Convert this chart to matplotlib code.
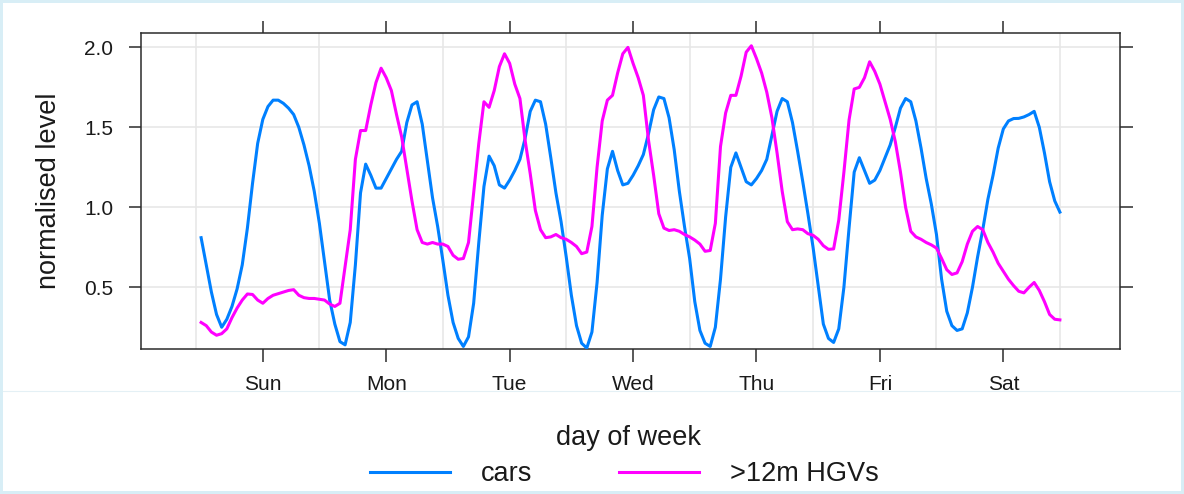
import matplotlib
matplotlib.use("Agg")
import matplotlib.pyplot as plt
from matplotlib.lines import Line2D
from matplotlib.patches import Rectangle
import numpy as np

plt.rcParams["font.family"] = ["Liberation Sans", "DejaVu Sans"]

# hour of week, 1..168 (Sunday 01:00 -> Saturday 24:00)
hours = np.arange(1, 169)

cars = [
    # Sun
    0.81, 0.64, 0.47, 0.33, 0.25, 0.30, 0.38, 0.49, 0.64, 0.87, 1.15, 1.40,
    1.55, 1.63, 1.67, 1.67, 1.65, 1.62, 1.58, 1.50, 1.39, 1.26, 1.10, 0.90,
    # Mon
    0.66, 0.42, 0.27, 0.16, 0.14, 0.28, 0.64, 1.09, 1.27, 1.20, 1.12, 1.12,
    1.18, 1.24, 1.30, 1.35, 1.53, 1.64, 1.66, 1.52, 1.29, 1.06, 0.88, 0.67,
    # Tue
    0.45, 0.28, 0.18, 0.13, 0.19, 0.40, 0.78, 1.13, 1.32, 1.26, 1.14, 1.12,
    1.17, 1.23, 1.30, 1.43, 1.60, 1.67, 1.66, 1.52, 1.31, 1.09, 0.91, 0.69,
    # Wed
    0.45, 0.26, 0.15, 0.12, 0.22, 0.53, 0.95, 1.24, 1.35, 1.23, 1.14, 1.15,
    1.20, 1.26, 1.33, 1.46, 1.61, 1.69, 1.68, 1.56, 1.36, 1.10, 0.88, 0.68,
    # Thu
    0.41, 0.23, 0.15, 0.13, 0.25, 0.55, 0.94, 1.25, 1.34, 1.25, 1.16, 1.14,
    1.18, 1.23, 1.30, 1.45, 1.60, 1.68, 1.66, 1.53, 1.35, 1.16, 0.96, 0.75,
    # Fri
    0.51, 0.27, 0.18, 0.155, 0.24, 0.50, 0.87, 1.22, 1.31, 1.23, 1.15, 1.17,
    1.23, 1.31, 1.39, 1.50, 1.62, 1.68, 1.66, 1.54, 1.37, 1.18, 1.02, 0.83,
    # Sat
    0.55, 0.35, 0.26, 0.23, 0.24, 0.34, 0.50, 0.69, 0.86, 1.05, 1.20, 1.37,
    1.49, 1.54, 1.555, 1.556, 1.565, 1.58, 1.60, 1.50, 1.34, 1.16, 1.04, 0.97,
]

hgvs = [
    # Sun
    0.28, 0.26, 0.22, 0.20, 0.21, 0.24, 0.31, 0.37, 0.42, 0.458, 0.455, 0.42,
    0.40, 0.43, 0.45, 0.46, 0.47, 0.48, 0.485, 0.45, 0.435, 0.43, 0.43, 0.425,
    # Mon
    0.42, 0.395, 0.38, 0.40, 0.63, 0.86, 1.30, 1.48, 1.48, 1.64, 1.78, 1.87,
    1.81, 1.73, 1.58, 1.44, 1.24, 1.04, 0.86, 0.78, 0.77, 0.78, 0.77, 0.77,
    # Tue
    0.755, 0.70, 0.675, 0.68, 0.78, 1.09, 1.40, 1.66, 1.625, 1.73, 1.88, 1.96,
    1.90, 1.77, 1.68, 1.42, 1.21, 0.98, 0.86, 0.81, 0.815, 0.83, 0.81, 0.80,
    # Wed
    0.78, 0.755, 0.71, 0.72, 0.88, 1.25, 1.54, 1.67, 1.70, 1.84, 1.96, 2.00,
    1.90, 1.81, 1.70, 1.42, 1.20, 0.96, 0.87, 0.855, 0.86, 0.85, 0.83, 0.815,
    # Thu
    0.795, 0.77, 0.725, 0.73, 0.90, 1.38, 1.59, 1.70, 1.70, 1.82, 1.97, 2.01,
    1.93, 1.84, 1.72, 1.56, 1.34, 1.10, 0.91, 0.86, 0.865, 0.86, 0.835, 0.825,
    # Fri
    0.80, 0.76, 0.737, 0.74, 0.92, 1.22, 1.546, 1.74, 1.75, 1.81, 1.91, 1.85,
    1.77, 1.66, 1.55, 1.41, 1.22, 1.00, 0.85, 0.815, 0.80, 0.78, 0.765, 0.745,
    # Sat
    0.68, 0.61, 0.58, 0.59, 0.66, 0.77, 0.85, 0.88, 0.86, 0.78, 0.72, 0.65,
    0.60, 0.55, 0.51, 0.475, 0.465, 0.50, 0.53, 0.48, 0.41, 0.33, 0.30, 0.296,
]

day_labels = ["Sun", "Mon", "Tue", "Wed", "Thu", "Fri", "Sat"]
day_ticks = [13, 37, 61, 85, 109, 133, 157]
day_edges = [0, 24, 48, 72, 96, 120, 144, 168]
y_ticks = [0.5, 1.0, 1.5, 2.0]

car_col = "#0080ff"
hgv_col = "#ff00ff"
text_col = "#1a1a1a"
grid_col = "#e6e6e6"

W, H = 1184, 494
fig = plt.figure(figsize=(W / 100, H / 100), dpi=100)
fig.patch.set_facecolor("#d8eef6")
fig.patches.append(Rectangle((3 / W, 3 / H), (W - 6) / W, (H - 6) / H,
                             transform=fig.transFigure, facecolor="white",
                             edgecolor="none", zorder=-10))
fig.add_artist(Line2D([3 / W, 1 - 3 / W], [1 - 391 / H, 1 - 391 / H],
                      transform=fig.transFigure, color="#e4f0f5", lw=0.8,
                      zorder=-5))

ax = fig.add_axes([141 / W, 1 - 349 / H, (1120 - 141) / W, (349 - 33.3) / H])
ax.set_zorder(1)
ax.set_xlim(-10.69, 179.69)
ax.set_ylim(0.114, 2.088)

for x in day_edges:
    ax.axvline(x, color=grid_col, lw=1.1, zorder=1)
for y in y_ticks:
    ax.axhline(y, color=grid_col, lw=1.1, zorder=1)

ax.plot(hours, cars, color=car_col, lw=2.2, zorder=3, solid_joinstyle="round")
ax.plot(hours, hgvs, color=hgv_col, lw=2.2, zorder=4, solid_joinstyle="round")

ax.set_xticks(day_ticks)
ax.set_xticklabels(day_labels)
ax.set_yticks(y_ticks)
ax.set_yticklabels([f"{v:.1f}" for v in y_ticks])
ax.tick_params(axis="both", direction="out", length=9, width=1.1,
               color="#2b2b2b", labelcolor=text_col, labelsize=15,
               top=True, right=True)
ax.tick_params(axis="x", pad=10)
ax.tick_params(axis="y", pad=11)
for sp in ax.spines.values():
    sp.set_color("#2b2b2b")
    sp.set_linewidth(1.1)

fig.text(629 / W, 1 - 445 / H, "day of week", ha="center", va="baseline",
         fontsize=19.5, color=text_col)
fig.text(49 / W, 1 - 191 / H, "normalised level", ha="center", va="center",
         rotation=90, fontsize=19.5, color=text_col)

handles = [Line2D([], [], color=car_col, lw=2.2),
           Line2D([], [], color=hgv_col, lw=2.2)]
fig.legend(handles, ["cars", ">12m HGVs"], ncol=2, loc="center",
           bbox_to_anchor=(624.5 / W, 1 - 474 / H), frameon=False,
           fontsize=19.5, handlelength=2.96, handletextpad=1.15,
           columnspacing=3.2, labelcolor=text_col)

fig.savefig("out.png", dpi=100, facecolor=fig.get_facecolor())
